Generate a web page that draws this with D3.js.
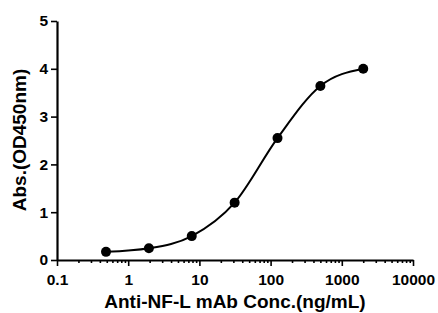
<!DOCTYPE html>
<html>
<head>
<meta charset="utf-8">
<script src="https://cdn.jsdelivr.net/npm/d3@7"></script>
<style>
html,body{margin:0;padding:0;background:#fff;}
svg{display:block;font-family:"Liberation Sans",Arial,sans-serif;font-weight:bold;}
</style>
</head>
<body>
<svg id="chart" width="438" height="313"></svg>
<script>
const concentrations = [0.488, 1.953, 7.8125, 31.25, 125, 500, 2000];
const absorbance = [0.17, 0.245, 0.50, 1.20, 2.55, 3.64, 4.00];
const xTickValues = [0.1, 1, 10, 100, 1000, 10000];
const xTickLabels = ["0.1", "1", "10", "100", "1000", "10000"];
const yTickValues = [0, 1, 2, 3, 4, 5];
const xTitle = "Anti-NF-L mAb Conc.(ng/mL)";
const yTitle = "Abs.(OD450nm)";

const svg = d3.select("#chart");
const x = d3.scaleLog().domain([0.1, 10000]).range([57, 413]);
const y = d3.scaleLinear().domain([0, 5]).range([260, 21]);

// minor ticks
const minor = [];
for (let e = -1; e < 4; e++) for (let m = 2; m <= 9; m++) minor.push(m * Math.pow(10, e));

const gx = svg.append("g").attr("transform", "translate(0,260)");
gx.call(d3.axisBottom(x).tickValues(minor).tickSize(3).tickFormat(""));
gx.call(g => g.selectAll(".domain").remove());
const gx2 = svg.append("g").attr("transform", "translate(0,260)");
gx2.call(d3.axisBottom(x).tickValues(xTickValues).tickSize(6).tickPadding(8)
  .tickFormat((d, i) => xTickLabels[i]).tickSizeOuter(0));
svg.selectAll("g .tick line").attr("stroke", "#000").attr("stroke-width", 1.6);
gx2.select(".domain").attr("stroke", "#000").attr("stroke-width", 2.2);
gx2.selectAll("text").attr("font-size", 15.5).attr("font-weight", "bold").attr("fill", "#000")
  .attr("font-family", "Liberation Sans, Arial, sans-serif");

const gy = svg.append("g").attr("transform", "translate(57,0)");
gy.call(d3.axisLeft(y).tickValues(yTickValues).tickSize(6).tickPadding(3).tickSizeOuter(0).tickFormat(d3.format("d")));
gy.select(".domain").attr("stroke", "#000").attr("stroke-width", 2.2);
gy.selectAll(".tick line").attr("stroke", "#000").attr("stroke-width", 1.6);
gy.selectAll("text").attr("font-size", 15.5).attr("font-weight", "bold").attr("fill", "#000")
  .attr("font-family", "Liberation Sans, Arial, sans-serif");

const pts = concentrations.map((c, i) => [c, absorbance[i]]);
const line = d3.line().x(d => x(d[0])).y(d => y(d[1])).curve(d3.curveMonotoneX);
svg.append("path").attr("d", line(pts)).attr("fill", "none").attr("stroke", "#000").attr("stroke-width", 2);

svg.selectAll("circle").data(pts).join("circle")
  .attr("cx", d => x(d[0])).attr("cy", d => y(d[1])).attr("r", 5).attr("fill", "#000");

svg.append("text").attr("x", 235).attr("y", 308).attr("text-anchor", "middle")
  .attr("font-size", 19).attr("fill", "#000").text(xTitle);
svg.append("text").attr("transform", "translate(26,140) rotate(-90)").attr("text-anchor", "middle")
  .attr("font-size", 19).attr("fill", "#000").text(yTitle);
</script>
</body>
</html>
